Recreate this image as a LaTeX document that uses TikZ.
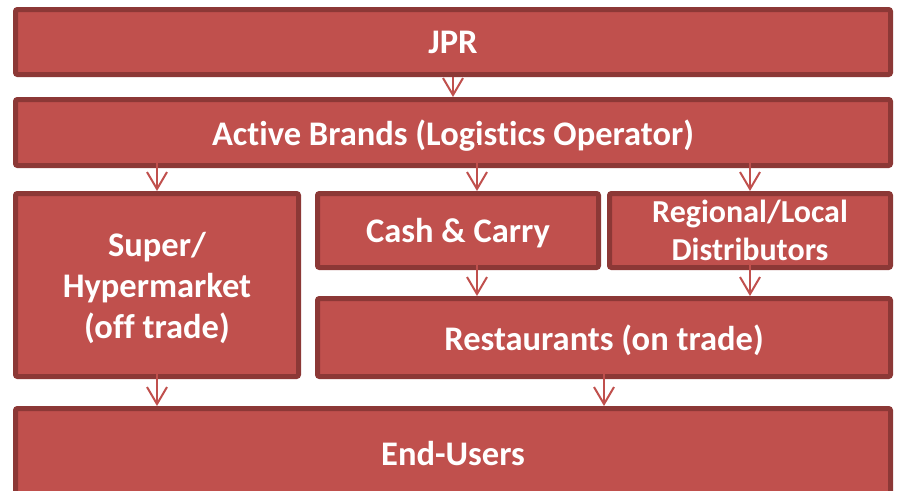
\documentclass[tikz,border=0pt]{standalone}
\usepackage{fontspec}
\setmainfont{Carlito}[Ligatures=NoCommon]
\usetikzlibrary{arrows.meta,calc}
\definecolor{boxred}{HTML}{C0504D}
\definecolor{boxedge}{HTML}{8C3836}

\begin{document}
\begin{tikzpicture}[x=1pt,y=-1pt,
    box/.style={draw=boxedge, fill=boxred, line width=5pt, rounded corners=2pt,
      inner sep=0pt, align=center, text=white, text depth=0pt,
      font=\bfseries\fontsize{34.5}{41}\selectfont},
    flow/.style={draw=boxred, line width=2pt,
      -{Straight Barb[length=17pt,width=20pt]}}]
  \clip (0,0) rectangle (901,490);
  % the chain, top to bottom
  \node[box, minimum width=875pt, minimum height=65pt] (jpr) at (453,42) {JPR};
  \node[box, minimum width=875pt, minimum height=66pt] (brands) at (453,132.5)
    {Active Brands (Logistics Operator)};
  \node[box, minimum width=283pt, minimum height=183pt] (super) at (157,285)
    {Super/\\Hypermarket\\(off trade)};
  \node[box, minimum width=281pt, minimum height=74pt] (cash) at (458,230.5)
    {Cash \& Carry};
  \node[box, minimum width=281pt, minimum height=74pt,
    font=\bfseries\fontsize{32}{38}\selectfont] (regional) at (750,230.5)
    {Regional/Local\\Distributors};
  \node[box, minimum width=573pt, minimum height=78pt] (restaurants) at (604,337.5)
    {Restaurants (on trade)};
  \node[box, minimum width=875pt, minimum height=89pt] (endusers) at (453,453)
    {End-Users};
  \begin{scope}
    \draw[flow] (jpr.south) -- (brands.north);
    \draw[flow] ($(brands.south -| super.north)+(0,-25)$) -- (super.north);
    \draw[flow] ($(brands.south -| cash.north)+(19,-25)$) -- ($(cash.north)+(19,0)$);
    \draw[flow] ($(brands.south -| regional.north)+(0,-25)$) -- (regional.north);
    \draw[flow] ($(cash.south)+(19,-25)$) -- ($(restaurants.north -| cash.north)+(19,0)$);
    \draw[flow] ($(regional.south)+(0,-5)$) -- (restaurants.north -| regional.north);
    \draw[flow] ($(super.south)+(0,-20)$) -- (endusers.north -| super.north);
    \draw[flow] ($(restaurants.south)+(0,-20)$) -- (endusers.north -| restaurants.north);
  \end{scope}
\end{tikzpicture}
\end{document}
